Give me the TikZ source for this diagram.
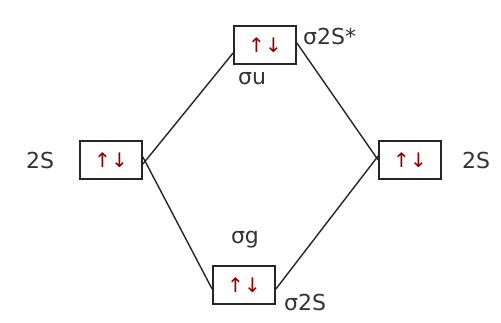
\documentclass[tikz,border=0pt]{standalone}
\usepackage{fontspec}
\setmainfont{DejaVu Sans}
\begin{document}
\begin{tikzpicture}[x=1pt,y=-1pt,
  orb/.style={draw=black!85, line width=1.8pt, minimum width=62pt, minimum height=38pt, inner sep=0pt, text=red!55!black, font=\fontsize{20}{22}\selectfont},
  lbl/.style={text=black!80, font=\fontsize{22}{24}\selectfont, inner sep=0pt},
  conn/.style={draw=black!85, line width=1.4pt}]
\useasboundingbox (0,0) rectangle (501,322);
\fill[white] (0,0) rectangle (501,322);
\node[orb] (top) at (265,45) {↑↓};
\node[orb] (left) at (111,160) {↑↓};
\node[orb] (right) at (410,160) {↑↓};
\node[orb] (bot) at (244,285) {↑↓};
\draw[conn] ([yshift=-4pt]left.east) -- ([yshift=-8pt]top.west);
\draw[conn] ([yshift=2pt]top.east) -- (right.west);
\draw[conn] ([yshift=3pt]left.east) -- ([yshift=-4pt]bot.west);
\draw[conn] ([yshift=-4pt]bot.east) -- ([yshift=4pt]right.west);
\node[lbl] (l2s) at (40,160) {2S};
\node[lbl,anchor=west] (r2s) at (462,160) {2S};
\node[lbl,anchor=west] (tstar) at (303,36) {σ2S*};
\node[lbl] (tu) at (252,78) {σu};
\node[lbl] (bg) at (245,240) {σg};
\node[lbl,anchor=west] (b2s) at (284,302) {σ2S};
\end{tikzpicture}
\end{document}
